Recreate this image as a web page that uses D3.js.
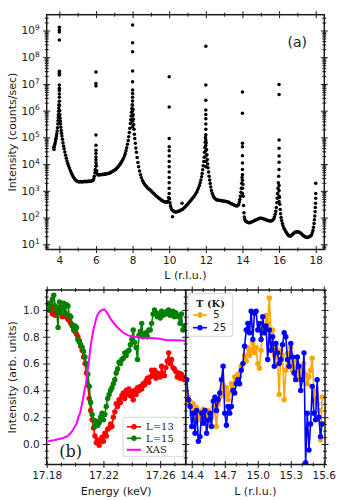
<!DOCTYPE html>
<html>
<head>
<meta charset="utf-8">
<script src="https://cdn.jsdelivr.net/npm/d3@7"></script>
<style>
  body { margin: 0; background: #fff; }
  svg { display: block; font-family: "DejaVu Sans", sans-serif; }
</style>
</head>
<body>
<div id="chart"></div>
<script>
// ---------- (a) L-scan, [L (r.l.u.), log10 counts/sec] ----------
const survey = [
  [3.70,4.62],[3.71,4.55],[3.72,4.66],[3.74,4.70],[3.76,4.76],[3.78,4.83],[3.80,4.90],[3.82,4.97],[3.84,5.05],[3.86,5.14],[3.88,5.24],[3.90,5.36],[3.92,5.50],[3.93,5.62],[3.94,5.74],[3.95,5.86],[3.96,5.98],[3.97,6.10],[3.98,6.22],
  [4.00,5.60],[4.00,5.80],[4.00,6.00],[4.00,6.20],[4.00,6.35],[4.00,6.50],[4.00,6.62],[4.00,6.75],[4.00,6.84],[4.00,6.96],[4.00,7.33],[4.00,7.40],[4.00,7.47],[4.00,8.64],[4.00,8.94],[4.00,9.02],[4.00,9.12],
  [4.02,6.00],[4.03,5.85],[4.04,5.72],[4.05,5.60],[4.06,5.50],[4.08,5.38],[4.10,5.26],[4.12,5.15],[4.14,5.05],[4.17,4.93],[4.20,4.80],[4.23,4.68],[4.26,4.57],[4.30,4.45],[4.34,4.33],[4.38,4.22],[4.42,4.12],[4.46,4.02],[4.50,3.94],[4.55,3.85],[4.60,3.76],[4.65,3.68],[4.70,3.61],[4.75,3.54],[4.80,3.48],[4.85,3.43],[4.90,3.40],[4.95,3.37],[5.00,3.35],[5.05,3.34],[5.10,3.33],[5.15,3.35],[5.20,3.34],[5.25,3.33],[5.30,3.35],[5.35,3.34],[5.40,3.36],[5.45,3.35],[5.50,3.34],[5.55,3.36],[5.60,3.35],[5.65,3.37],[5.70,3.36],[5.75,3.37],[5.80,3.38],[5.84,3.40],[5.88,3.45],[5.91,3.55],[5.94,3.68],[5.96,3.80],
  [6.00,3.92],[6.00,4.05],[6.00,4.16],[6.00,4.27],[6.00,4.40],[6.00,4.52],[6.00,4.71],[6.00,5.09],[6.00,6.92],[6.00,7.02],[6.00,7.45],
  [6.02,3.95],[6.04,3.75],[6.07,3.64],[6.11,3.60],[6.16,3.59],[6.21,3.60],[6.26,3.61],[6.31,3.60],[6.36,3.62],[6.41,3.61],[6.46,3.63],[6.51,3.62],[6.56,3.64],[6.61,3.64],[6.66,3.65],[6.71,3.66],[6.76,3.67],[6.81,3.69],[6.86,3.71],[6.91,3.73],[6.96,3.75],[7.01,3.77],[7.06,3.80],[7.11,3.83],[7.16,3.86],[7.21,3.90],[7.26,3.94],[7.31,3.99],[7.36,4.04],[7.41,4.10],[7.46,4.16],[7.51,4.23],[7.56,4.31],[7.60,4.40],[7.64,4.50],[7.68,4.61],[7.72,4.74],[7.76,4.88],[7.79,5.02],[7.82,5.18],[7.85,5.34],[7.88,5.52],[7.90,5.66],[7.92,5.80],[7.94,5.94],[7.96,6.08],[7.98,6.22],
  [8.00,5.40],[8.00,5.60],[8.00,5.80],[8.00,6.00],[8.00,6.20],[8.00,6.36],[8.00,6.50],[8.00,6.64],[8.00,6.77],[8.00,7.08],[8.00,7.48],[8.00,8.20],[8.00,8.54],[8.00,9.20],
  [8.02,6.05],[8.03,5.85],[8.04,5.68],[8.06,5.48],[8.08,5.30],[8.10,5.12],[8.12,4.96],[8.15,4.78],[8.18,4.60],[8.21,4.44],[8.25,4.25],[8.29,4.06],[8.33,3.90],[8.38,3.74],[8.43,3.60],[8.48,3.49],[8.54,3.39],[8.60,3.31],[8.66,3.24],[8.72,3.19],[8.78,3.14],[8.84,3.10],[8.90,3.06],[8.96,3.03],[9.02,2.99],[9.08,2.95],[9.14,2.91],[9.20,2.87],[9.26,2.83],[9.32,2.79],[9.38,2.76],[9.44,2.72],[9.50,2.69],[9.56,2.66],[9.62,2.63],[9.68,2.61],[9.74,2.59],[9.80,2.58],[9.85,2.57],[9.90,2.58],[9.94,2.62],[9.97,2.75],
  [10.00,2.90],[10.00,3.10],[10.00,3.30],[10.00,3.50],[10.00,3.70],[10.00,3.90],[10.00,4.10],[10.00,4.30],[10.00,4.50],[10.00,4.65],[10.00,4.96],[10.00,6.14],[10.00,7.27],
  [10.02,2.70],[10.04,2.55],[10.07,2.44],[10.10,2.36],[10.14,2.29],[10.18,2.03],[10.20,2.26],[10.25,2.24],[10.30,2.22],[10.35,2.21],[10.40,2.22],[10.45,2.22],[10.50,2.24],[10.55,2.25],[10.60,2.26],[10.65,2.28],[10.70,2.54],[10.72,2.30],[10.78,2.34],[10.84,2.38],[10.90,2.42],[10.96,2.47],[11.02,2.51],[11.08,2.56],[11.14,2.61],[11.20,2.66],[11.26,2.71],[11.32,2.76],[11.38,2.82],[11.44,2.88],[11.50,2.95],[11.55,3.03],[11.60,3.11],[11.65,3.20],[11.69,3.30],[11.73,3.41],[11.77,3.53],[11.80,3.65],[11.83,3.79],[11.86,3.94],[11.89,4.10],[11.91,4.26],[11.93,4.44],[11.95,4.62],[11.97,4.82],[11.98,5.00],
  [12.00,3.90],[12.00,4.10],[12.00,4.30],[12.00,4.50],[12.00,4.70],[12.00,4.90],[12.00,5.10],[12.00,5.30],[12.00,5.50],[12.00,5.70],[12.00,5.86],[12.00,6.02],[12.00,6.39],[12.00,6.96],[12.00,8.41],
  [12.02,4.80],[12.04,4.55],[12.06,4.35],[12.08,4.17],[12.10,4.00],[12.12,3.86],[12.15,3.70],[12.18,3.55],[12.21,3.41],[12.24,3.27],[12.27,3.14],[12.31,3.01],[12.35,2.91],[12.40,2.82],[12.45,2.75],[12.50,2.71],[12.56,2.68],[12.62,2.66],[12.68,2.65],[12.74,2.65],[12.80,2.64],[12.86,2.63],[12.92,2.62],[12.98,2.62],[13.04,2.61],[13.10,2.60],[13.16,2.59],[13.22,2.58],[13.28,2.56],[13.34,2.54],[13.40,2.52],[13.46,2.50],[13.52,2.48],[13.58,2.46],[13.64,2.44],[13.70,2.43],[13.75,2.45],[13.79,2.50],[13.83,2.58],[13.86,2.68],[13.89,2.80],[13.92,2.95],[13.94,3.10],[13.96,3.28],[13.98,3.50],
  [14.00,2.90],[14.00,3.10],[14.00,3.40],[14.00,3.60],[14.00,3.80],[14.00,4.04],[14.00,4.31],[14.00,4.65],[14.00,4.78],[14.00,5.90],[14.00,6.70],
  [14.02,3.25],[14.04,2.80],[14.06,2.45],[14.08,2.18],[14.10,2.02],[14.13,1.93],[14.17,1.87],[14.22,1.84],[14.28,1.82],[14.34,1.81],[14.40,1.81],[14.46,1.82],[14.52,1.84],[14.58,1.86],[14.64,1.88],[14.70,1.90],[14.76,1.92],[14.82,1.94],[14.88,1.96],[14.94,1.97],[15.00,1.97],[15.06,1.97],[15.12,1.96],[15.18,1.95],[15.24,1.93],[15.30,1.91],[15.36,1.90],[15.42,1.88],[15.48,1.87],[15.54,1.87],[15.60,1.88],[15.66,1.91],[15.71,1.96],[15.75,2.03],[15.79,2.12],[15.82,2.24],[15.85,2.38],[15.88,2.55],[15.90,2.72],[15.92,2.90],[15.94,3.10],[15.96,3.30],[15.98,3.55],
  [16.00,2.60],[16.00,2.80],[16.00,3.00],[16.00,3.20],[16.00,3.80],[16.00,4.07],[16.00,4.30],[16.00,4.59],[16.00,4.90],[16.00,6.60],[16.00,6.98],
  [16.02,2.75],[16.04,2.50],[16.06,2.30],[16.08,2.14],[16.11,2.00],[16.14,1.89],[16.18,1.78],[16.22,1.68],[16.27,1.60],[16.32,1.53],[16.37,1.47],[16.42,1.42],[16.47,1.37],[16.52,1.33],[16.57,1.31],[16.62,1.31],[16.67,1.33],[16.72,1.36],[16.77,1.39],[16.82,1.42],[16.87,1.45],[16.92,1.46],[16.97,1.47],[17.02,1.47],[17.07,1.46],[17.12,1.44],[17.17,1.42],[17.22,1.39],[17.27,1.36],[17.32,1.33],[17.37,1.30],[17.42,1.28],[17.47,1.26],[17.52,1.25],[17.57,1.26],[17.62,1.27],[17.67,1.29],[17.72,1.31],[17.77,1.35],[17.81,1.42],[17.85,1.52],[17.88,1.64],[17.91,1.78],[17.93,1.92],[17.95,2.06],[17.97,2.22],[17.98,2.38],[17.99,2.54],[18.00,2.72],[18.00,2.90],[18.00,3.28]
];
const surveyMajor = [4, 6, 8, 10, 12, 14, 16, 18];
const surveyMinor = [5, 7, 9, 11, 13, 15, 17];
const decades = [1, 2, 3, 4, 5, 6, 7, 8, 9];

// ---------- (b) energy scans at L = 13 and L = 15, plus XAS ----------
const energy = [
  17.181,17.182,17.183,17.184,17.185,17.186,17.187,17.188,17.189,17.190,
  17.191,17.192,17.193,17.194,17.195,17.196,17.197,17.198,17.199,17.200,
  17.201,17.202,17.203,17.204,17.205,17.206,17.207,17.208,17.209,17.210,
  17.211,17.212,17.213,17.214,17.215,17.216,17.217,17.218,17.219,17.220,
  17.221,17.222,17.223,17.224,17.225,17.226,17.227,17.228,17.229,17.230,
  17.231,17.232,17.233,17.234,17.235,17.236,17.237,17.238,17.239,17.240,
  17.241,17.242,17.243,17.244,17.245,17.246,17.247,17.248,17.249,17.250,
  17.251,17.252,17.253,17.254,17.255,17.256,17.257,17.258,17.259,17.260,
  17.261,17.262,17.263,17.264,17.265,17.266,17.267,17.268,17.269,17.270,
  17.271,17.272,17.273,17.274,17.275,17.276,17.277
];
const scanL13 = [
  1.05,1.00,1.03,0.97,1.01,0.96,1.02,0.98,0.99,1.00,
  0.95,0.97,0.98,0.95,0.93,0.92,0.90,0.88,0.86,0.84,
  0.82,0.80,0.77,0.73,0.70,0.65,0.60,0.53,0.44,0.34,
  0.25,0.18,0.12,0.06,0.01,0.03,-0.01,0.02,0.05,0.02,
  0.08,0.06,0.11,0.12,0.15,0.13,0.20,0.24,0.30,0.28,
  0.33,0.31,0.36,0.38,0.34,0.40,0.37,0.41,0.36,0.39,
  0.33,0.40,0.37,0.42,0.40,0.43,0.41,0.45,0.44,0.47,
  0.49,0.46,0.50,0.55,0.51,0.55,0.49,0.53,0.52,0.50,
  0.58,0.53,0.51,0.57,0.62,0.68,0.60,0.63,0.57,0.56,
  0.54,0.50,0.53,0.49,0.52,0.50,0.48
];
const scanL15 = [
  1.04,1.00,1.05,1.08,1.11,1.03,1.00,0.87,1.06,1.02,
  0.98,1.05,0.97,1.04,1.03,0.96,0.95,0.89,0.85,0.88,
  0.87,0.78,0.76,0.74,0.72,0.69,0.65,0.60,0.52,0.43,
  0.31,0.22,0.18,0.13,0.17,0.14,0.16,0.20,0.23,0.18,
  0.22,0.28,0.34,0.37,0.40,0.42,0.45,0.48,0.53,0.56,
  0.61,0.60,0.63,0.64,0.68,0.66,0.69,0.70,0.74,0.78,
  0.85,0.76,0.72,0.63,0.81,0.84,0.90,0.80,0.82,0.83,
  0.80,0.85,0.85,0.90,0.97,1.00,0.98,0.95,0.97,0.94,
  0.99,0.96,0.98,0.97,0.99,1.00,0.96,0.97,0.99,0.95,
  0.98,0.96,0.95,0.90,0.97,0.85,0.88
];
const xasEnergy = [
  17.1811,17.1859,17.1917,17.1950,17.1976,17.1993,17.2012,17.2023,17.2035,17.2047,
  17.2058,17.2068,17.2077,17.2084,17.2093,17.2102,17.2110,17.2119,17.2129,17.2141,
  17.2153,17.2164,17.2176,17.2190,17.2206,17.2218,17.2232,17.2246,17.2268,17.2294,
  17.2318,17.2340,17.2373,17.2411,17.2458,17.2528,17.2599,17.2646,17.2705,17.2778
];
const xas = [
  0.02,0.03,0.045,0.06,0.09,0.12,0.155,0.20,0.23,0.29,
  0.35,0.41,0.45,0.52,0.58,0.66,0.73,0.79,0.85,0.90,
  0.95,0.975,0.99,1.00,1.005,0.99,0.97,0.94,0.91,0.875,
  0.85,0.83,0.81,0.80,0.795,0.79,0.785,0.775,0.775,0.77
];
const energyMajor = [17.18, 17.22, 17.26];

// ---------- (c) L-scans through the L = 15 region at two temperatures ----------
const lScan = [
  14.355,14.370,14.385,14.400,14.415,14.430,14.445,14.460,14.475,14.490,
  14.505,14.520,14.535,14.550,14.565,14.580,14.595,14.610,14.625,14.640,
  14.655,14.670,14.685,14.700,14.715,14.730,14.745,14.760,14.775,14.790,
  14.805,14.820,14.835,14.850,14.865,14.880,14.895,14.910,14.925,14.940,
  14.955,14.970,14.985,15.000,15.015,15.030,15.045,15.060,15.075,15.090,
  15.105,15.120,15.135,15.150,15.165,15.180,15.195,15.210,15.225,15.240,
  15.255,15.270,15.285,15.300,15.315,15.330,15.345,15.360,15.375,15.390,
  15.405,15.420,15.435,15.450,15.465,15.480,15.495,15.510,15.525,15.540,
  15.555,15.570,15.585
];
const t5K = [
  0.30,0.35,0.32,0.22,0.30,0.20,0.27,0.18,0.24,0.20,
  0.26,0.17,0.22,0.25,0.14,0.20,0.28,0.24,0.13,0.30,
  0.35,0.40,0.44,0.36,0.42,0.33,0.38,0.45,0.42,0.50,
  0.47,0.52,0.50,0.58,0.60,0.66,0.62,0.72,0.66,0.70,
  0.75,0.68,0.72,0.60,0.565,0.70,0.86,0.83,0.96,0.90,
  1.09,0.82,0.85,0.66,0.72,0.60,0.37,0.70,0.66,0.33,
  0.55,0.68,0.60,0.72,0.55,0.62,0.50,0.58,0.48,0.55,
  0.50,0.60,0.52,0.45,0.50,0.55,0.64,0.40,0.33,0.30,
  0.25,0.03,0.35
];
const t25K = [
  0.48,0.33,0.28,0.13,0.23,0.08,0.25,0.02,0.055,0.23,
  0.155,0.25,0.08,0.18,0.23,0.13,0.32,0.35,0.25,0.33,
  0.38,0.48,0.58,0.23,0.14,0.28,0.23,0.28,0.40,0.38,
  0.45,0.48,0.45,0.55,0.60,0.73,0.85,0.90,0.83,0.99,
  0.78,0.975,0.99,0.85,0.90,0.78,0.95,0.83,0.88,0.63,
  0.85,0.70,0.80,0.58,0.75,0.68,0.60,0.63,0.74,0.83,
  0.80,0.63,0.58,0.75,0.65,0.53,0.48,0.65,0.58,0.40,
  0.48,0.68,-0.14,0.23,-0.045,0.15,0.43,0.23,0.18,0.48,
  0.20,0.055,0.15
];
const lMajor = [14.4, 14.7, 15.0, 15.3, 15.6];
const intensityMajor = [0, 0.2, 0.4, 0.6, 0.8, 1.0];

// ---------- layout ----------
const width = 338, height = 500;
const ink = "#1a1a1a";
const serif = "'DejaVu Serif', serif";

const svg = d3.select("#chart").append("svg")
  .attr("width", width)
  .attr("height", height);

// draws ticks that cross the frame line, as matplotlib's "inout"
function ticks(g, axis, tx, ty) {
  const a = g.append("g")
    .attr("transform", `translate(${tx},${ty})`)
    .call(axis)
    .attr("color", ink)
    .attr("font-family", "'DejaVu Sans', sans-serif")
    .attr("font-size", 10.5);
  a.select(".domain").remove();
  a.selectAll("line").attr("stroke-width", 1);
  return a;
}

function frame(g, w, h) {
  g.append("rect")
    .attr("width", w)
    .attr("height", h)
    .attr("fill", "none")
    .attr("stroke", ink)
    .attr("stroke-width", 1.5);
}

// ---------- panel (a) ----------
const pa = { left: 46.7, top: 14.7, w: 277.6, h: 234.8 };
const ga = svg.append("g").attr("transform", `translate(${pa.left},${pa.top})`);
const xa = d3.scaleLinear().domain([3.31, 18.47]).range([0, pa.w]);
const ya = d3.scaleLog().domain([Math.pow(10, 0.805), Math.pow(10, 9.59)]).range([pa.h, 0]);

ga.selectAll("circle")
  .data(survey)
  .join("circle")
  .attr("cx", d => xa(d[0]))
  .attr("cy", d => ya(Math.pow(10, d[1])))
  .attr("r", 1.75)
  .attr("fill", "#000");

const countMajor = decades.map(e => Math.pow(10, e));
const countMinor = [];
for (let e = 0; e <= 9; e++) {
  for (let k = 2; k <= 9; k++) {
    const v = k * Math.pow(10, e);
    if (v > ya.domain()[0] && v < ya.domain()[1]) countMinor.push(v);
  }
}

ticks(ga, d3.axisBottom(xa).tickValues(surveyMajor).tickSize(7).tickPadding(3.5), 0, pa.h - 3.5);
ticks(ga, d3.axisBottom(xa).tickValues(surveyMinor).tickSize(4).tickFormat(""), 0, pa.h - 2);
ticks(ga, d3.axisTop(xa).tickValues(surveyMajor).tickSize(7).tickFormat(""), 0, 3.5);
ticks(ga, d3.axisTop(xa).tickValues(surveyMinor).tickSize(4).tickFormat(""), 0, 2);
const yaLabels = ticks(ga, d3.axisLeft(ya).tickValues(countMajor).tickSize(7).tickPadding(3.5), 3.5, 0);
yaLabels.selectAll(".tick text")
  .text("10")
  .append("tspan")
  .attr("dy", "-0.55em")
  .attr("font-size", 7.5)
  .text(d => Math.round(Math.log10(d)));
ticks(ga, d3.axisLeft(ya).tickValues(countMinor).tickSize(4).tickFormat(""), 2, 0);
ticks(ga, d3.axisRight(ya).tickValues(countMajor).tickSize(7).tickFormat(""), pa.w - 3.5, 0);
ticks(ga, d3.axisRight(ya).tickValues(countMinor).tickSize(4).tickFormat(""), pa.w - 2, 0);
frame(ga, pa.w, pa.h);

ga.append("text")
  .attr("x", 250.5).attr("y", 32)
  .attr("text-anchor", "middle")
  .attr("font-size", 14)
  .attr("fill", ink)
  .text("(a)");

ga.append("text")
  .attr("x", pa.w / 2).attr("y", pa.h + 30)
  .attr("text-anchor", "middle")
  .attr("font-size", 11)
  .attr("fill", ink)
  .text("L (r.l.u.)");

svg.append("text")
  .attr("transform", `translate(16,${pa.top + pa.h / 2}) rotate(-90)`)
  .attr("text-anchor", "middle")
  .attr("font-size", 11)
  .attr("fill", ink)
  .text("Intensity (counts/sec)");

// ---------- panels (b) and (c): shared intensity scale ----------
const pb = { left: 46.7, top: 290, w: 139, h: 174.5 };
const pc = { left: 185.7, top: 290, w: 139.3, h: 174.5 };
const yb = d3.scaleLinear().domain([-0.153, 1.149]).range([pb.h, 0]);
const intensityMinor = d3.range(-0.15, 1.16, 0.05).filter(v => !intensityMajor.some(m => Math.abs(m - v) < 1e-6));

const defs = svg.append("defs");
defs.append("clipPath").attr("id", "clip-b").append("rect").attr("width", pb.w).attr("height", pb.h);
defs.append("clipPath").attr("id", "clip-c").append("rect").attr("width", pc.w).attr("height", pc.h);

function series(g, x, y, xs, ys, color, withDots) {
  const pts = xs.map((v, i) => [v, ys[i]]);
  const line = d3.line().x(d => x(d[0])).y(d => y(d[1]));
  g.append("path")
    .datum(pts)
    .attr("d", line)
    .attr("fill", "none")
    .attr("stroke", color)
    .attr("stroke-width", withDots ? 1.6 : 2);
  if (withDots) {
    g.append("g")
      .selectAll("circle")
      .data(pts)
      .join("circle")
      .attr("cx", d => x(d[0]))
      .attr("cy", d => y(d[1]))
      .attr("r", 2.7)
      .attr("fill", color);
  }
}

// (b)
const gb = svg.append("g").attr("transform", `translate(${pb.left},${pb.top})`);
const xb = d3.scaleLinear().domain([17.18, 17.278]).range([0, pb.w]);
const energyMinor = d3.range(17.19, 17.278, 0.01).filter(v => !energyMajor.some(m => Math.abs(m - v) < 1e-6));
const plotB = gb.append("g").attr("clip-path", "url(#clip-b)");
series(plotB, xb, yb, energy, scanL13, "#ff0000", true);
series(plotB, xb, yb, energy, scanL15, "#008000", true);
series(plotB, xb, yb, xasEnergy, xas, "#ff00ff", false);

ticks(gb, d3.axisBottom(xb).tickValues(energyMajor).tickSize(7).tickPadding(3.5), 0, pb.h - 3.5);
ticks(gb, d3.axisBottom(xb).tickValues(energyMinor).tickSize(4).tickFormat(""), 0, pb.h - 2);
ticks(gb, d3.axisTop(xb).tickValues(energyMajor).tickSize(7).tickFormat(""), 0, 3.5);
ticks(gb, d3.axisTop(xb).tickValues(energyMinor).tickSize(4).tickFormat(""), 0, 2);
ticks(gb, d3.axisLeft(yb).tickValues(intensityMajor).tickSize(7).tickPadding(3.5).tickFormat(d3.format(".1f")), 3.5, 0);
ticks(gb, d3.axisLeft(yb).tickValues(intensityMinor).tickSize(4).tickFormat(""), 2, 0);
frame(gb, pb.w, pb.h);

gb.append("text")
  .attr("x", 24).attr("y", 167)
  .attr("text-anchor", "middle")
  .attr("font-family", serif)
  .attr("font-size", 16)
  .attr("fill", ink)
  .text("(b)");

gb.append("text")
  .attr("x", pb.w / 2).attr("y", pb.h + 30)
  .attr("text-anchor", "middle")
  .attr("font-size", 11)
  .attr("fill", ink)
  .text("Energy (keV)");

// legend (b)
const legB = gb.append("g").attr("transform", "translate(76.3,127.3)");
legB.append("rect")
  .attr("width", 61).attr("height", 39.5).attr("rx", 2)
  .attr("fill", "#fff").attr("fill-opacity", 0.85)
  .attr("stroke", "#ccc").attr("stroke-width", 0.8);
[["L=13", "#ff0000", true], ["L=15", "#008000", true], ["XAS", "#ff00ff", false]].forEach((e, i) => {
  const yy = 9.5 + i * 11.5;
  legB.append("line").attr("x1", 4).attr("x2", 18).attr("y1", yy).attr("y2", yy)
    .attr("stroke", e[1]).attr("stroke-width", e[2] ? 1.6 : 2);
  if (e[2]) legB.append("circle").attr("cx", 11).attr("cy", yy).attr("r", 2.7).attr("fill", e[1]);
  legB.append("text").attr("x", 23).attr("y", yy).attr("dy", "0.35em")
    .attr("font-family", serif).attr("font-size", 10).attr("fill", ink).text(e[0]);
});

svg.append("text")
  .attr("transform", `translate(16,${pb.top + pb.h / 2}) rotate(-90)`)
  .attr("text-anchor", "middle")
  .attr("font-size", 11)
  .attr("fill", ink)
  .text("Intensity (arb. units)");

// (c)
const gc = svg.append("g").attr("transform", `translate(${pc.left},${pc.top})`);
const xc = d3.scaleLinear().domain([14.345, 15.611]).range([0, pc.w]);
const lMinor = d3.range(14.4, 15.61, 0.1).filter(v => !lMajor.some(m => Math.abs(m - v) < 1e-6));
const plotC = gc.append("g").attr("clip-path", "url(#clip-c)");
series(plotC, xc, yb, lScan, t5K, "#ffa500", true);
series(plotC, xc, yb, lScan, t25K, "#0000ff", true);

ticks(gc, d3.axisBottom(xc).tickValues(lMajor).tickSize(7).tickPadding(3.5).tickFormat(d3.format(".1f")), 0, pc.h - 3.5);
ticks(gc, d3.axisBottom(xc).tickValues(lMinor).tickSize(4).tickFormat(""), 0, pc.h - 2);
ticks(gc, d3.axisTop(xc).tickValues(lMajor).tickSize(7).tickFormat(""), 0, 3.5);
ticks(gc, d3.axisTop(xc).tickValues(lMinor).tickSize(4).tickFormat(""), 0, 2);
ticks(gc, d3.axisLeft(yb).tickValues(intensityMajor).tickSize(7).tickFormat(""), 3.5, 0);
ticks(gc, d3.axisLeft(yb).tickValues(intensityMinor).tickSize(4).tickFormat(""), 2, 0);
ticks(gc, d3.axisRight(yb).tickValues(intensityMajor).tickSize(7).tickFormat(""), pc.w - 3.5, 0);
ticks(gc, d3.axisRight(yb).tickValues(intensityMinor).tickSize(4).tickFormat(""), pc.w - 2, 0);
frame(gc, pc.w, pc.h);

gc.append("text")
  .attr("x", pc.w / 2).attr("y", pc.h + 30)
  .attr("text-anchor", "middle")
  .attr("font-size", 11)
  .attr("fill", ink)
  .text("L (r.l.u.)");

// legend (c)
const legC = gc.append("g").attr("transform", "translate(2.6,3.3)");
legC.append("rect")
  .attr("width", 44.4).attr("height", 43).attr("rx", 2)
  .attr("fill", "#fff").attr("fill-opacity", 0.85)
  .attr("stroke", "#ccc").attr("stroke-width", 0.8);
legC.append("text")
  .attr("x", 22.2).attr("y", 10.7).attr("dy", "0.35em")
  .attr("text-anchor", "middle")
  .attr("font-family", serif).attr("font-size", 10).attr("font-weight", "bold")
  .attr("fill", ink).text("T (K)");
[["5", "#ffa500"], ["25", "#0000ff"]].forEach((e, i) => {
  const yy = 21.7 + i * 12.7;
  legC.append("line").attr("x1", 4.7).attr("x2", 18.7).attr("y1", yy).attr("y2", yy)
    .attr("stroke", e[1]).attr("stroke-width", 1.6);
  legC.append("circle").attr("cx", 11.7).attr("cy", yy).attr("r", 2.7).attr("fill", e[1]);
  legC.append("text").attr("x", 25).attr("y", yy).attr("dy", "0.35em")
    .attr("font-size", 10).attr("fill", ink).text(e[0]);
});
</script>
</body>
</html>
